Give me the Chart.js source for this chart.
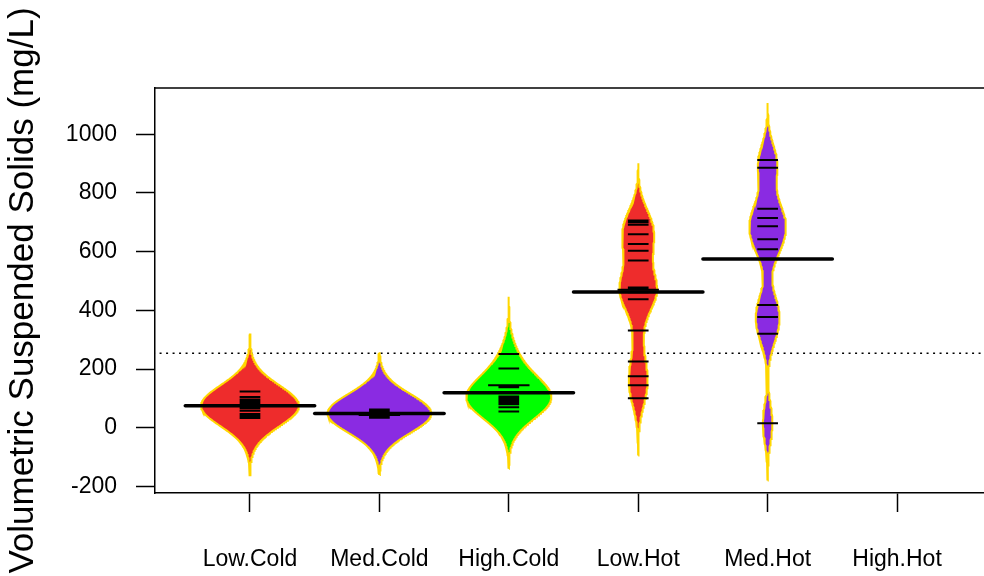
<!DOCTYPE html>
<html>
<head>
<meta charset="utf-8">
<title>Volumetric Suspended Solids</title>
<script src="https://cdn.jsdelivr.net/npm/chart.js@4.4.1/dist/chart.umd.min.js"></script>
<style>
  html, body { margin: 0; padding: 0; background: #fff; }
  canvas { display: block; }
</style>
</head>
<body>
<canvas id="beanChart" width="984" height="576"></canvas>
<script>
// treatment groups and the individual measurements (mg/L)
const groups = ["Low.Cold", "Med.Cold", "High.Cold", "Low.Hot", "Med.Hot", "High.Hot"];
const lowCold = [123, 105, 96, 90, 86, 82, 78, 74, 70, 66, 58, 47, 40, 33];
const medCold = [62, 60, 58, 56, 54, 52, 50, 48, 46, 43, 43, 40, 37, 34];
const highCold = [251, 202, 145, 145, 138, 106, 101, 98, 95, 91, 86, 80, 70, 55];
const lowHot = [706, 700, 692, 659, 626, 603, 570, 478, 472, 470, 470, 462, 438, 331, 226, 175, 145, 100];
const medHot = [912, 886, 746, 715, 687, 642, 608, 418, 377, 320, 15];
const highHot = [];
const yTicks = [-200, 0, 200, 400, 600, 800, 1000];

const beanFill = ["#EE2C2C", "#8A2BE2", "#00FF00", "#EE2C2C", "#8A2BE2", "#00FF00"];
const FONT = "Arial, 'Liberation Sans', sans-serif";

const samples = [lowCold, medCold, highCold, lowHot, medHot, highHot];
const bw = 65;          // kernel bandwidth
const maxwidth = 0.8;   // widest bean, in category units
const ll = 0.16;        // bean line length per observation

function kde(vals, y) {
    let s = 0;
    for (const v of vals) {
        const z = (y - v) / bw;
        s += Math.exp(-0.5 * z * z);
    }
    return s / (vals.length * bw * Math.sqrt(2 * Math.PI));
}

// density curves for each bean, cut 3 bandwidths beyond the data
const curves = samples.map(vals => {
    if (!vals.length) return [];
    const lo = Math.min(...vals) - 3 * bw, hi = Math.max(...vals) + 3 * bw;
    const n = 300, pts = [];
    for (let i = 0; i <= n; i++) {
        const y = lo + (hi - lo) * i / n;
        pts.push({ y: y, d: kde(vals, y) });
    }
    return pts;
});
const maxD = Math.max(...curves.flat().map(p => p.d));

const datasets = [];

// overall mean (dotted)
const all = samples.flat();
const overall = all.reduce((a, b) => a + b, 0) / all.length;
datasets.push({
    data: [{ x: 0, y: overall }, { x: 7, y: overall }],
    showLine: true, borderColor: "#000", borderWidth: 1.5,
    borderDash: [2, 4.5], pointRadius: 0, order: 4
});

samples.forEach((vals, i) => {
    if (!vals.length) return;
    const c = i + 1;
    const half = p => (maxwidth / 2) * p.d / maxD;
    const right = curves[i].map(p => ({ x: c + half(p), y: p.y }));
    const left = curves[i].slice().reverse().map(p => ({ x: c - half(p), y: p.y }));
    const outline = right.concat(left);
    outline.push(outline[0]);
    datasets.push({
        data: outline, showLine: true, fill: "shape",
        backgroundColor: beanFill[i], borderColor: "#FFD700", borderWidth: 2,
        pointRadius: 0, tension: 0, order: 3
    });

    // one line per observation, longer where values repeat
    const counts = {};
    vals.forEach(v => counts[v] = (counts[v] || 0) + 1);
    const segs = [];
    Object.keys(counts).forEach(k => {
        const v = +k, w = ll * counts[k] / 2;
        segs.push({ x: c - w, y: v }, { x: c + w, y: v }, { x: c, y: null });
    });
    datasets.push({
        data: segs, showLine: true, spanGaps: false, borderColor: "#000",
        borderWidth: 2, pointRadius: 0, order: 2
    });

    // group mean
    const m = vals.reduce((a, b) => a + b, 0) / vals.length;
    datasets.push({
        data: [{ x: c - 0.5, y: m }, { x: c + 0.5, y: m }],
        showLine: true, borderColor: "#000", borderWidth: 3.5,
        borderCapStyle: "round", pointRadius: 0, order: 1
    });
});

const topBorder = {
    id: "topBorder",
    afterDraw(chart) {
        const { ctx, chartArea } = chart;
        ctx.save();
        ctx.strokeStyle = "#000";
        ctx.lineWidth = 1.5;
        ctx.beginPath();
        ctx.moveTo(chartArea.left, chartArea.top);
        ctx.lineTo(chartArea.right, chartArea.top);
        ctx.stroke();
        ctx.restore();
    }
};

new Chart(document.getElementById("beanChart"), {
    type: "scatter",
    data: { datasets: datasets },
    plugins: [topBorder],
    options: {
        responsive: false,
        animation: false,
        layout: { padding: { top: 88, right: 0, bottom: 0, left: 0 } },
        plugins: { legend: { display: false }, tooltip: { enabled: false } },
        scales: {
            x: {
                type: "linear",
                min: 0.266,
                max: 6.672,
                afterBuildTicks: s => { s.ticks = groups.map((g, i) => ({ value: i + 1 })); },
                afterFit: s => { s.height = 83; },
                ticks: {
                    callback: v => groups[v - 1],
                    color: "#000", font: { family: FONT, size: 23 },
                    padding: 34, maxRotation: 0, autoSkip: false
                },
                grid: { drawOnChartArea: false, drawTicks: true, tickLength: 19, tickColor: "#000", tickWidth: 1.5 },
                border: { display: true, color: "#000", width: 1.5 }
            },
            y: {
                min: -222.6,
                max: 1157.8,
                afterBuildTicks: s => { s.ticks = yTicks.map(v => ({ value: v })); },
                afterFit: s => { s.width = 155; },
                ticks: {
                    callback: v => String(v),
                    color: "#000", font: { family: FONT, size: 23 }, padding: 19
                },
                grid: { drawOnChartArea: false, drawTicks: true, tickLength: 19, tickColor: "#000", tickWidth: 1.5 },
                border: { display: true, color: "#000", width: 1.5 },
                title: {
                    display: true,
                    text: "Volumetric Suspended Solids (mg/L)",
                    color: "#000",
                    font: { family: FONT, size: 35 },
                    padding: { top: 2, bottom: 0 }
                }
            }
        }
    }
});
</script>
</body>
</html>
